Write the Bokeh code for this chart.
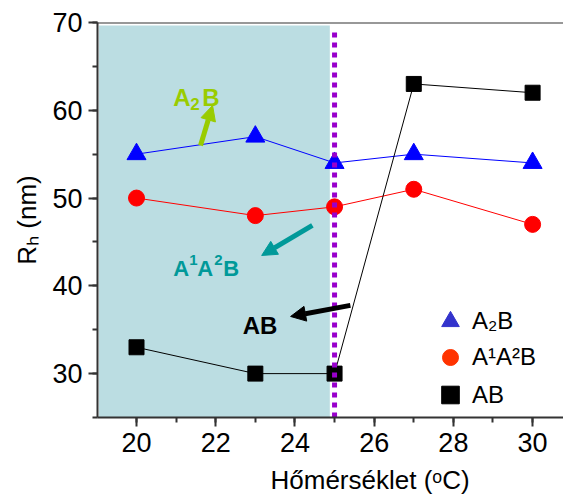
from bokeh.plotting import figure
from bokeh.models import (Range1d, SingleIntervalTicker, BoxAnnotation, Span,
                          Arrow, NormalHead, Legend, LegendItem, Title)
from bokeh.core.properties import value
from bokeh.embed import file_html
from bokeh.resources import INLINE

# ---- data ----
temps = [20, 23, 25, 27, 30]
a2b = [55, 57, 54, 55, 54]
a1a2b = [50, 48, 49, 51, 47]
ab = [33, 30, 30, 63, 62]
transition_temp = [25]
series_names = ["A₂B", "A¹A²B", "AB"]
x_label = "Hőmérséklet (ᵒC)"
y_label = "Rₕ (nm)"

# ---- annotation positions (data units) ----
shade = dict(left=19.05, right=24.88, bottom=25, top=69.66)
vline_top = [69.1]
vline_bottom = [25]
# annotation label pieces: (text, font size px, x offset px, y offset px)
ann_labels = [
    (20.93, 61.46, "#99CC00", [("A", 24, 0, 0), ("2", 17, 17, 7), ("B", 24, 29, 0)]),
    (20.93, 41.98, "#009999", [("A", 22, 0, 0), ("1", 15, 16, -8), ("A", 22, 24, 0),
                              ("2", 15, 41, -8), ("B", 22, 50, 0)]),
    (22.68, 35.49, "#000000", [("AB", 24, 0, 0)]),
]
arrows = [
    (21.616, 55.99, 21.92, 60.55, "#99CC00"),
    (24.44, 46.88, 23.16, 43.46, "#009999"),
    (25.40, 37.77, 23.89, 36.51, "#000000"),
]

FONT = "Liberation Sans"
NAN = float("nan")

p = figure(width=563, height=504,
           x_range=Range1d(19.015, 30.78), y_range=Range1d(25, 70),
           output_backend="svg", toolbar_location=None,
           min_border_left=97, min_border_right=0,
           min_border_top=22, min_border_bottom=87,
           background_fill_color="white", border_fill_color="white")
p.outline_line_color = None
p.xgrid.visible = False
p.ygrid.visible = False

p.add_layout(BoxAnnotation(left=shade["left"], right=shade["right"],
                           bottom=shade["bottom"], top=shade["top"],
                           fill_color="#BBDDE2", fill_alpha=1.0,
                           line_color=None, level="underlay"))
p.add_layout(Span(location=70, dimension="width", line_color="#333333",
                  line_width=2))

# series
p.line(temps, a2b, line_color="#0000FF", line_width=1)
p.line(temps, a1a2b, line_color="#FF0000", line_width=1)
p.line(temps, ab, line_color="#000000", line_width=1)
p.scatter(temps, a2b, marker="triangle", size=19, fill_color="#0000FF",
          line_color="#0000FF")
p.scatter(temps, a1a2b, marker="circle", size=16, fill_color="#FF0000",
          line_color="#FF0000")
p.scatter(temps, ab, marker="square", size=15, fill_color="#000000",
          line_color="#000000")

# transition line
p.segment(x0=transition_temp, y0=vline_bottom, x1=transition_temp,
          y1=vline_top, line_color="#9900CC", line_width=5,
          line_dash="5 5")

# annotations
for x, y, c, pieces in ann_labels:
    for t, fs, dx, dy in pieces:
        p.text(x=[x], y=[y], text=[t], text_color=c, text_font=value(FONT),
               text_font_style="bold", text_font_size=f"{fs}px",
               x_offset=dx, y_offset=dy,
               text_baseline="alphabetic", text_align="left")
for xs, ys, xe, ye, c in arrows:
    p.add_layout(Arrow(x_start=xs, y_start=ys, x_end=xe, y_end=ye,
                       line_color=c, line_width=5,
                       end=NormalHead(size=15, fill_color=c, line_color=c)))

# legend (one small legend per row so each marker gets its own size)
legend_specs = [
    ("triangle", "#3333CC", 50, 71),
    ("circle", "#FF3300", 40, 40),
    ("square", "#000000", 45, 0),
]
for name, (marker, color, gh, yloc) in zip(series_names, legend_specs):
    r = p.scatter(x=[NAN], y=[NAN], marker=marker, fill_color=color,
                  line_color=color)
    p.add_layout(Legend(items=[LegendItem(label=name, renderers=[r])],
                        location=(331, yloc), orientation="vertical",
                        glyph_width=44, glyph_height=gh, label_height=gh,
                        padding=0, margin=0, spacing=0, label_standoff=0,
                        label_text_font=FONT, label_text_font_size="24px",
                        label_text_color="#000000",
                        background_fill_alpha=0, border_line_color=None))

# axes
p.xaxis.ticker = SingleIntervalTicker(interval=2, num_minor_ticks=2)
p.yaxis.ticker = SingleIntervalTicker(interval=10, num_minor_ticks=2)
for ax in (p.xaxis[0], p.yaxis[0]):
    ax.axis_line_width = 2
    ax.axis_line_color = "#333333"
    ax.major_tick_line_width = 2
    ax.major_tick_line_color = "#333333"
    ax.minor_tick_line_width = 2
    ax.minor_tick_line_color = "#333333"
    ax.major_tick_out = 9
    ax.major_tick_in = 0
    ax.minor_tick_out = 5
    ax.minor_tick_in = 0
    ax.major_label_text_font = FONT
    ax.major_label_text_font_size = "27px"
    ax.major_label_text_color = "#000000"
    ax.major_label_standoff = 6

p.add_layout(Title(text=x_label, align="left", offset=173, standoff=16,
                   text_font=FONT, text_font_size="26px",
                   text_font_style="normal", text_color="#000000"), "below")
p.add_layout(Title(text=y_label, align="center", offset=20, standoff=16,
                   text_font=FONT, text_font_size="26px",
                   text_font_style="normal", text_color="#000000"), "left")

open("out.html", "w").write(file_html(p, INLINE))
